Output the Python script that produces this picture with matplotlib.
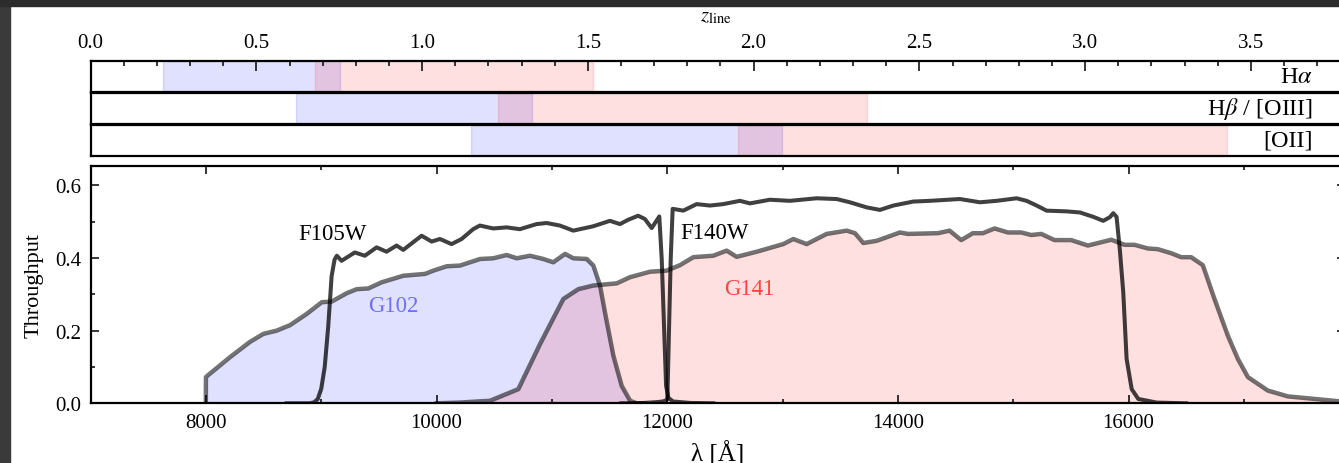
"""
Grism / filter throughput chart with redshift coverage panels.
"""

import matplotlib
matplotlib.use("Agg")
import matplotlib.pyplot as plt
from matplotlib.patches import Rectangle
from matplotlib.ticker import MultipleLocator


# ── Data ──────────────────────────────────────────────────────────────
f105w_lam = [8700, 8900, 8940, 8970, 9000, 9030, 9060, 9090, 9115, 9135,
             9176, 9291, 9378, 9480, 9566, 9653, 9711, 9870, 9957, 10029,
             10130, 10217, 10317, 10375, 10491, 10607, 10722, 10867, 10954,
             11069, 11185, 11358, 11503, 11590, 11662, 11748, 11806, 11865,
             11931, 11952, 11972, 11990, 12010, 12050, 12200, 12400]
f105w_tp = [0.0, 0.0, 0.003, 0.012, 0.04, 0.10, 0.21, 0.35, 0.395, 0.406,
            0.392, 0.415, 0.406, 0.429, 0.417, 0.434, 0.422, 0.461, 0.445, 0.452,
            0.438, 0.452, 0.479, 0.489, 0.481, 0.484, 0.479, 0.493, 0.496,
            0.489, 0.475, 0.487, 0.502, 0.493, 0.505, 0.516, 0.507, 0.482,
            0.514, 0.397, 0.213, 0.048, 0.015, 0.005, 0.001, 0.0]

f140w_lam = [11600, 11800, 11900, 11960, 11990, 12001, 12016, 12030, 12047,
             12139, 12255, 12370, 12486, 12630, 12717, 12890, 13064, 13295,
             13468, 13584, 13729, 13844, 13960, 14133, 14277, 14537, 14711,
             14856, 15029, 15116, 15203, 15289, 15463, 15578, 15694, 15780,
             15838, 15867, 15896, 15925, 15954, 15983, 16027, 16084, 16244, 16500]
f140w_tp = [0.0, 0.001, 0.003, 0.005, 0.008, 0.012, 0.213, 0.397, 0.535,
            0.530, 0.548, 0.544, 0.548, 0.557, 0.550, 0.560, 0.557, 0.564,
            0.562, 0.553, 0.539, 0.532, 0.544, 0.555, 0.557, 0.562, 0.553,
            0.557, 0.564, 0.557, 0.544, 0.530, 0.528, 0.525, 0.513, 0.502,
            0.512, 0.523, 0.513, 0.42, 0.305, 0.122, 0.039, 0.012, 0.002, 0.0]

g102_lam = [7999, 8000, 8021, 8209, 8382, 8498, 8614, 8729, 8874, 9004, 9091,
            9221, 9308, 9408, 9524, 9712, 9900, 9972, 10088, 10203, 10377,
            10492, 10608, 10695, 10810, 10926, 11012, 11114, 11186, 11302,
            11359, 11417, 11460, 11533, 11605, 11678, 11735, 11800]
g102_tp = [0.0, 0.072, 0.078, 0.127, 0.169, 0.191, 0.200, 0.215, 0.246, 0.278,
           0.280, 0.303, 0.314, 0.316, 0.333, 0.351, 0.356, 0.365, 0.377, 0.379,
           0.397, 0.399, 0.408, 0.399, 0.406, 0.397, 0.388, 0.411, 0.399,
           0.397, 0.379, 0.324, 0.250, 0.131, 0.048, 0.007, 0.0, 0.0]

g141_lam = [10000, 10200, 10463, 10709, 10897, 11099, 11229, 11359, 11562,
            11678, 11851, 11995, 12110, 12226, 12399, 12515, 12602, 12775,
            13006, 13093, 13209, 13382, 13556, 13628, 13700, 13816, 14018,
            14087, 14347, 14448, 14549, 14650, 14737, 14838, 14954, 15069,
            15156, 15243, 15358, 15503, 15647, 15850, 15965, 16052, 16167,
            16254, 16369, 16456, 16543, 16644, 16745, 16861, 16948, 17035,
            17208, 17382, 17613, 17844, 18000]
g141_tp = [0.0, 0.002, 0.007, 0.039, 0.163, 0.287, 0.314, 0.324, 0.330,
           0.347, 0.362, 0.365, 0.380, 0.402, 0.406, 0.420, 0.403, 0.417,
           0.438, 0.452, 0.438, 0.466, 0.475, 0.468, 0.441, 0.447, 0.470,
           0.466, 0.468, 0.475, 0.449, 0.468, 0.468, 0.481, 0.470, 0.470,
           0.463, 0.466, 0.449, 0.449, 0.434, 0.450, 0.436, 0.436, 0.426,
           0.424, 0.413, 0.402, 0.402, 0.380, 0.287, 0.186, 0.122, 0.072,
           0.035, 0.019, 0.012, 0.005, 0.003]

# grism wavelength coverage (Å) and emission lines (Å)
g102_range = [8000, 11500]
g141_range = [11000, 16500]
line_names = [r"H$\alpha$", r"H$\beta$ / [OIII]", "[OII]"]
line_waves = [6563, 4935, 3727]


# ── Style ─────────────────────────────────────────────────────────────
plt.rcParams["font.family"] = ["Liberation Serif", "DejaVu Serif"]
plt.rcParams["mathtext.fontset"] = "stix"
plt.rcParams["font.size"] = 15

W, H = 1339, 464
fig = plt.figure(figsize=(W / 100, H / 100), dpi=100)

# screenshot frame (dark strips on top and left)
fig.patches.append(Rectangle((0, 0), 10 / W, 1, transform=fig.transFigure,
                             color="#3a3a3a", zorder=-10))
fig.patches.append(Rectangle((0, 1 - 7 / H), 1, 7 / H, transform=fig.transFigure,
                             color="#2c2c2c", zorder=-10))

x0, x1 = 90.6, 1344.5           # pixel extent of the axes


def fig_box(top, bottom):
    return [x0 / W, 1 - bottom / H, (x1 - x0) / W, (bottom - top) / H]


# ── Main throughput axes ──────────────────────────────────────────────
ax = fig.add_axes(fig_box(167.3, 404.3))
ax.fill_between(g102_lam, g102_tp, color="b", alpha=0.12, lw=0)
ax.fill_between(g141_lam, g141_tp, color="r", alpha=0.12, lw=0)
ax.plot(g102_lam, g102_tp, color="k", alpha=0.55, lw=3.2)
ax.plot(g141_lam, g141_tp, color="k", alpha=0.55, lw=3.2)
ax.plot(f105w_lam, f105w_tp, color="k", alpha=0.75, lw=2.9)
ax.plot(f140w_lam, f140w_tp, color="k", alpha=0.75, lw=2.9)

ax.text(8800, 0.468, "F105W", fontsize=16.5, va="center")
ax.text(12110, 0.470, "F140W", fontsize=16.5, va="center")
ax.text(9405, 0.270, "G102", fontsize=16.5, va="center", color="b", alpha=0.5)
ax.text(12490, 0.317, "G141", fontsize=16.5, va="center", color="r", alpha=0.7)

ax.set_xlim(7000, 7000 + (x1 - x0) / 0.11533)
ax.set_ylim(0, 0.652)
ax.xaxis.set_major_locator(MultipleLocator(2000))
ax.xaxis.set_minor_locator(MultipleLocator(1000))
ax.yaxis.set_major_locator(MultipleLocator(0.2))
ax.yaxis.set_minor_locator(MultipleLocator(0.1))
ax.tick_params(which="both", direction="in", top=True, right=True, width=1.1)
ax.tick_params(which="major", length=6, pad=7)
ax.tick_params(which="minor", length=3)
for s in ax.spines.values():
    s.set_linewidth(1.6)
ax.set_xlabel("λ [Å]", fontsize=18, labelpad=6)
ax.set_ylabel("Throughput", fontsize=16, labelpad=8)


# ── Redshift coverage panels ──────────────────────────────────────────
zmax = (x1 - x0) / 331.5
label_x = (1313 - x0) / (x1 - x0)
tops = [61.7, 93.6, 125.5]
for i, (name, wave) in enumerate(zip(line_names, line_waves)):
    zax = fig.add_axes(fig_box(tops[i], tops[i] + 31.4))
    zax.axvspan(g102_range[0] / wave - 1, g102_range[1] / wave - 1,
                color="b", alpha=0.12, lw=1)
    zax.axvspan(g141_range[0] / wave - 1, g141_range[1] / wave - 1,
                color="r", alpha=0.12, lw=1)
    zax.text(label_x, 0.5, name, transform=zax.transAxes,
             ha="right", va="center", fontsize=17.5)
    zax.set_xlim(0, zmax)
    zax.set_yticks([])
    for s in zax.spines.values():
        s.set_linewidth(1.6)
    if i == 0:
        zax.xaxis.set_major_locator(MultipleLocator(0.5))
        zax.xaxis.set_minor_locator(MultipleLocator(0.1))
        zax.xaxis.set_major_formatter(plt.FuncFormatter(lambda v, _: f"{v:.1f}"))
        zax.tick_params(which="both", direction="in", top=True, bottom=False,
                        labeltop=True, labelbottom=False, width=1.1)
        zax.tick_params(which="major", length=7, pad=6)
        zax.tick_params(which="minor", length=3.5)
    else:
        zax.set_xticks([])

fig.text(716 / W, 1 - 17 / H, r"$z_{\rm line}$", ha="center", va="center",
         fontsize=15)

plt.savefig("out.png", dpi=100)
